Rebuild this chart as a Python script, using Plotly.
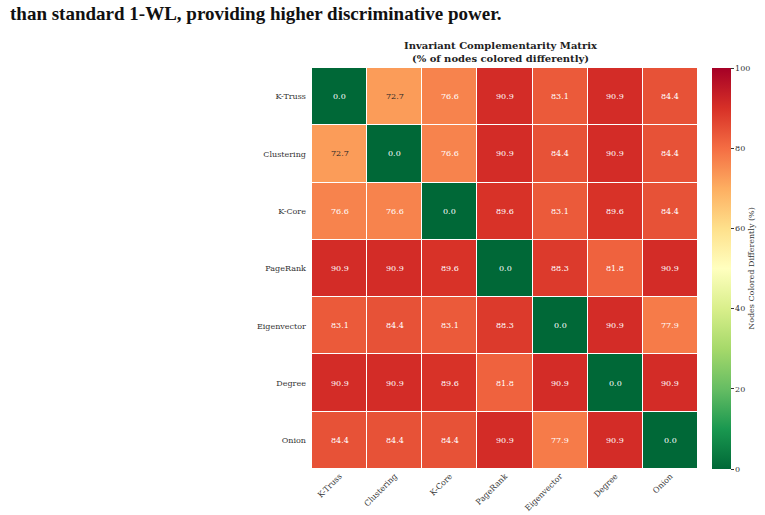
import plotly.graph_objects as go

labels = ["K-Truss", "Clustering", "K-Core", "PageRank", "Eigenvector", "Degree", "Onion"]
values = [
    [0.0, 72.7, 76.6, 90.9, 83.1, 90.9, 84.4],
    [72.7, 0.0, 76.6, 90.9, 84.4, 90.9, 84.4],
    [76.6, 76.6, 0.0, 89.6, 83.1, 89.6, 84.4],
    [90.9, 90.9, 89.6, 0.0, 88.3, 81.8, 90.9],
    [83.1, 84.4, 83.1, 88.3, 0.0, 90.9, 77.9],
    [90.9, 90.9, 89.6, 81.8, 90.9, 0.0, 90.9],
    [84.4, 84.4, 84.4, 90.9, 77.9, 90.9, 0.0],
]
cbar_ticks = [0, 20, 40, 60, 80, 100]

FONT = "DejaVu Serif"

fig = go.Figure(go.Heatmap(
    z=values, x=labels, y=labels,
    colorscale="RdYlGn_r", zmin=0, zmax=100,
    xgap=1, ygap=1,
    hoverinfo="skip",
    colorbar=dict(
        x=1.036, xanchor="left", xpad=0, ypad=0, y=0.5, yanchor="middle",
        len=1, lenmode="fraction", thickness=19, thicknessmode="pixels",
        outlinewidth=0, tickvals=cbar_ticks, ticks="outside", ticklen=3,
        tickcolor="#333", tickfont=dict(family=FONT, size=8, color="#333"),
        title=dict(text="Nodes Colored Differently (%)", side="right",
                   font=dict(family=FONT, size=8, color="#333")),
    ),
))

for i, row in enumerate(values):
    for j, v in enumerate(row):
        col = "#262626" if 27 < v < 75 else "white"
        fig.add_annotation(x=labels[j], y=labels[i], text=f"{v:.1f}",
                           showarrow=False, font=dict(family=FONT, size=8, color=col))

fig.add_annotation(xref="paper", yref="paper", x=0.49, y=1.006, yanchor="bottom",
                   text="<b>Invariant Complementarity Matrix<br>(% of nodes colored differently)</b>",
                   showarrow=False, font=dict(family=FONT, size=10, color="#222"))

fig.add_annotation(xref="paper", yref="paper", x=-0.787, xanchor="left",
                   y=1.135, yanchor="middle",
                   text="<b>than standard 1-WL, providing higher discriminative power.</b>",
                   showarrow=False, font=dict(family="Liberation Serif", size=19, color="#111"))

fig.update_xaxes(tickangle=-45, tickfont=dict(family=FONT, size=8, color="#333"),
                 showgrid=False, zeroline=False, ticks="", automargin=False)
fig.update_yaxes(autorange="reversed", tickfont=dict(family=FONT, size=8, color="#333"),
                 showgrid=False, zeroline=False, ticks="", ticksuffix="  ", automargin=False)

fig.update_layout(
    width=765, height=515,
    margin=dict(l=312, r=67, t=68, b=46, autoexpand=False),
    paper_bgcolor="white", plot_bgcolor="white",
    showlegend=False,
)

fig.write_html("out.html")
